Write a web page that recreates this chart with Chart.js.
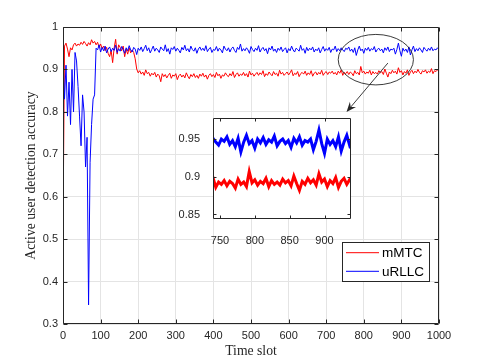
<!DOCTYPE html>
<html>
<head>
<meta charset="utf-8">
<script src="https://cdn.jsdelivr.net/npm/chart.js@4.4.1/dist/chart.umd.min.js"></script>
<style>
  html, body { margin: 0; padding: 0; background: #fff; }
  #wrap { position: relative; width: 485px; height: 363px; }
  #main { position: absolute; left: 0; top: 0; }
  #inset { position: absolute; left: 160px; top: 100px; }
</style>
</head>
<body>
<div id="wrap">
  <canvas id="main" width="485" height="363"></canvas>
  <canvas id="inset" width="200" height="145"></canvas>
</div>
<script>
// time slot of every sample (one sample read every 4 slots)
const slots = Array.from({ length: 251 }, (_, i) => i * 4);

// mMTC accuracy
const mMTC = [
  0.525, 0.955, 0.962, 0.948, 0.930, 0.951, 0.946, 0.958, 0.962, 0.955,
  0.960, 0.957, 0.964, 0.959, 0.966, 0.961, 0.955, 0.963, 0.958, 0.970,
  0.962, 0.966, 0.958, 0.964, 0.952, 0.960, 0.949, 0.955, 0.944, 0.952,
  0.938, 0.930, 0.945, 0.916, 0.950, 0.971, 0.936, 0.958, 0.952, 0.944,
  0.955, 0.930, 0.948, 0.936, 0.951, 0.939, 0.946, 0.940, 0.925, 0.901,
  0.892, 0.897, 0.889, 0.894, 0.886, 0.899, 0.890, 0.893, 0.884, 0.891,
  0.887, 0.893, 0.882, 0.889, 0.885, 0.871, 0.890, 0.883, 0.888, 0.880,
  0.886, 0.891, 0.879, 0.887, 0.884, 0.890, 0.876, 0.885, 0.889, 0.882,
  0.887, 0.880, 0.892, 0.884, 0.878, 0.888, 0.883, 0.890, 0.881, 0.886,
  0.879, 0.889, 0.884, 0.891, 0.882, 0.887, 0.877, 0.886, 0.890, 0.883,
  0.888, 0.881, 0.893, 0.885, 0.889, 0.879, 0.887, 0.884, 0.892, 0.886,
  0.883, 0.890, 0.885, 0.895, 0.881, 0.888, 0.892, 0.884, 0.889, 0.886,
  0.893, 0.885, 0.890, 0.882, 0.896, 0.887, 0.891, 0.884, 0.889, 0.893,
  0.886, 0.892, 0.888, 0.897, 0.883, 0.890, 0.886, 0.894, 0.889, 0.885,
  0.895, 0.888, 0.891, 0.884, 0.898, 0.889, 0.893, 0.886, 0.890, 0.894,
  0.887, 0.892, 0.899, 0.885, 0.891, 0.888, 0.895, 0.883, 0.890, 0.893,
  0.889, 0.896, 0.886, 0.892, 0.888, 0.897, 0.884, 0.891, 0.894, 0.887,
  0.893, 0.889, 0.898, 0.886, 0.892, 0.895, 0.888, 0.894, 0.891, 0.896,
  0.889, 0.893, 0.887, 0.896, 0.891, 0.899, 0.886, 0.893, 0.890, 0.895,
  0.888, 0.894, 0.891, 0.885, 0.897, 0.890, 0.893, 0.887, 0.907, 0.892,
  0.896, 0.889, 0.894, 0.891, 0.898, 0.887, 0.895, 0.890, 0.893, 0.889,
  0.897, 0.892, 0.895, 0.888, 0.901, 0.891, 0.882, 0.894, 0.890, 0.898,
  0.892, 0.896, 0.889, 0.904, 0.893, 0.897, 0.887, 0.895, 0.891, 0.899,
  0.886, 0.894, 0.898, 0.890, 0.896, 0.892, 0.900, 0.893, 0.889, 0.897,
  0.894, 0.899, 0.891, 0.896, 0.893, 0.902, 0.890, 0.897, 0.895, 0.899,
  0.896
];

// uRLLC accuracy
const uRLLC = [
  0.930, 0.830, 0.910, 0.790, 0.870, 0.770, 0.900, 0.800, 0.940, 0.920,
  0.860, 0.790, 0.720, 0.840, 0.800, 0.670, 0.740, 0.345, 0.680, 0.770,
  0.830, 0.840, 0.950,
  0.946, 0.958, 0.941, 0.952, 0.944, 0.955, 0.939, 0.948, 0.953, 0.942,
  0.950, 0.945, 0.957, 0.940, 0.949, 0.943, 0.954, 0.947, 0.938, 0.951,
  0.944, 0.956, 0.946, 0.941, 0.952, 0.948, 0.935, 0.950, 0.945, 0.953,
  0.942, 0.949, 0.957, 0.944, 0.951, 0.939, 0.947, 0.955, 0.943, 0.950,
  0.946, 0.940, 0.953, 0.948, 0.944, 0.958, 0.942, 0.949, 0.936, 0.951,
  0.947, 0.954, 0.943, 0.950, 0.945, 0.939, 0.952, 0.946, 0.957, 0.944,
  0.949, 0.941, 0.955, 0.947, 0.943, 0.951, 0.938, 0.948, 0.953, 0.945,
  0.950, 0.944, 0.956, 0.942, 0.948, 0.952, 0.940, 0.947, 0.945, 0.954,
  0.943, 0.950, 0.946, 0.939, 0.955, 0.948, 0.944, 0.951, 0.941, 0.949,
  0.953, 0.945, 0.940, 0.952, 0.947, 0.960, 0.943, 0.949, 0.944, 0.951,
  0.946, 0.938, 0.954, 0.947, 0.942, 0.950, 0.945, 0.956, 0.941, 0.948,
  0.952, 0.944, 0.949, 0.937, 0.951, 0.946, 0.955, 0.943, 0.948, 0.940,
  0.950, 0.945, 0.953, 0.942, 0.947, 0.951, 0.939, 0.949, 0.944, 0.955,
  0.946, 0.941, 0.950, 0.947, 0.943, 0.957, 0.945, 0.949, 0.938, 0.952,
  0.944, 0.950, 0.946, 0.953, 0.941, 0.948, 0.944, 0.951, 0.939, 0.947,
  0.954, 0.943, 0.949, 0.945, 0.952, 0.940, 0.948, 0.946, 0.955, 0.942,
  0.949, 0.944, 0.951, 0.946, 0.942, 0.950, 0.947, 0.953, 0.943, 0.948,
  0.940, 0.951, 0.933, 0.946, 0.955, 0.944, 0.948, 0.938, 0.950, 0.945,
  0.952, 0.943, 0.949, 0.946, 0.954, 0.941, 0.947, 0.950, 0.944, 0.948,
  0.939, 0.951, 0.945, 0.953, 0.942, 0.948, 0.946, 0.950, 0.936, 0.947,
  0.962, 0.944, 0.931, 0.950, 0.943, 0.948, 0.940, 0.953, 0.934, 0.946,
  0.955, 0.942, 0.949, 0.944, 0.951, 0.946, 0.940, 0.952, 0.947, 0.943,
  0.950, 0.945, 0.953, 0.944, 0.948, 0.946, 0.951, 0.947
];

const seriesNames = ['mMTC', 'uRLLC'];
const seriesColors = ['#ff0000', '#0000ff'];

const xTicksMain = [0, 100, 200, 300, 400, 500, 600, 700, 800, 900, 1000];
const yTicksMain = [0.3, 0.4, 0.5, 0.6, 0.7, 0.8, 0.9, 1];
const xTicksInset = [750, 800, 850, 900];
const yTicksInset = [0.85, 0.9, 0.95];

const AX = '#262626';
const SANS = "'Liberation Sans', Arial, sans-serif";
const SERIF = "'Liberation Serif', 'Times New Roman', serif";

function pts(vals) {
  return slots.map((s, i) => ({ x: s, y: vals[i] }));
}
function fmt(v) {
  return String(Number(v.toFixed(2)));
}

// matlab style box with inward ticks on all four sides
const matBox = {
  id: 'matBox',
  beforeDatasetsDraw(chart, args, opts) {
    if (!opts.fill) return;
    const a = chart.chartArea, ctx = chart.ctx;
    ctx.save();
    ctx.fillStyle = '#fff';
    ctx.fillRect(a.left, a.top, a.right - a.left, a.bottom - a.top);
    ctx.restore();
  },
  afterDraw(chart, args, opts) {
    const { ctx, chartArea: a, scales: { x, y } } = chart;
    const tl = opts.tick || 4;
    const L = Math.round(a.left) + 0.5, R = Math.round(a.right) - 0.5;
    const T = Math.round(a.top) + 0.5, B = Math.round(a.bottom) - 0.5;
    ctx.save();
    ctx.strokeStyle = AX;
    ctx.lineWidth = 1;
    ctx.beginPath();
    ctx.rect(L, T, R - L, B - T);
    x.ticks.forEach(t => {
      const px = Math.round(x.getPixelForValue(t.value)) + 0.5;
      ctx.moveTo(px, B); ctx.lineTo(px, B - tl);
      ctx.moveTo(px, T); ctx.lineTo(px, T + tl);
    });
    y.ticks.forEach(t => {
      const py = Math.round(y.getPixelForValue(t.value)) + 0.5;
      ctx.moveTo(L, py); ctx.lineTo(L + tl, py);
      ctx.moveTo(R, py); ctx.lineTo(R - tl, py);
    });
    ctx.stroke();
    ctx.restore();
  }
};
Chart.register(matBox);

// legend box in the lower right corner
const legendBox = {
  id: 'legendBox',
  afterDraw(chart) {
    const ctx = chart.ctx;
    ctx.save();
    ctx.fillStyle = '#fff';
    ctx.fillRect(342, 242, 87, 39);
    ctx.strokeStyle = AX;
    ctx.lineWidth = 1;
    ctx.strokeRect(342.5, 242.5, 87, 39);
    ctx.font = '13.5px ' + SANS;
    ctx.textBaseline = 'middle';
    ctx.fillStyle = '#000';
    chart.data.datasets.forEach((ds, i) => {
      const yy = 252.7 + i * 18.6;
      ctx.strokeStyle = ds.borderColor;
      ctx.beginPath();
      ctx.moveTo(346, yy); ctx.lineTo(379, yy);
      ctx.stroke();
      ctx.fillText(ds.label, 382, yy + 0.5);
    });
    ctx.restore();
  }
};

// ellipse round the zoomed part and the arrow to the inset
const zoomMark = {
  id: 'zoomMark',
  afterDraw(chart) {
    const { ctx, scales: { x, y } } = chart;
    const cx = x.getPixelForValue(832), cy = y.getPixelForValue(0.923);
    const rx = x.getPixelForValue(932) - cx, ry = cy - y.getPixelForValue(0.9825);
    ctx.save();
    ctx.strokeStyle = AX;
    ctx.fillStyle = AX;
    ctx.lineWidth = 0.9;
    ctx.beginPath();
    ctx.ellipse(cx, cy, rx, ry, 0, 0, Math.PI * 2);
    ctx.stroke();
    const x0 = x.getPixelForValue(864), y0 = y.getPixelForValue(0.915);
    const x1 = x.getPixelForValue(754), y1 = y.getPixelForValue(0.7995);
    const ang = Math.atan2(y1 - y0, x1 - x0);
    ctx.beginPath();
    ctx.moveTo(x0, y0);
    ctx.lineTo(x1 - 6 * Math.cos(ang), y1 - 6 * Math.sin(ang));
    ctx.stroke();
    ctx.beginPath();
    ctx.moveTo(x1, y1);
    ctx.lineTo(x1 - 10 * Math.cos(ang) + 4 * Math.sin(ang), y1 - 10 * Math.sin(ang) - 4 * Math.cos(ang));
    ctx.lineTo(x1 - 6.5 * Math.cos(ang), y1 - 6.5 * Math.sin(ang));
    ctx.lineTo(x1 - 10 * Math.cos(ang) - 4 * Math.sin(ang), y1 - 10 * Math.sin(ang) + 4 * Math.cos(ang));
    ctx.closePath();
    ctx.fill();
    ctx.restore();
  }
};

function datasets(width) {
  return seriesNames.map((name, i) => ({
    label: name,
    data: pts(i === 0 ? mMTC : uRLLC),
    borderColor: seriesColors[i],
    borderWidth: width,
    pointRadius: 0,
    tension: 0,
    order: 1 - i
  }));
}

const tickFont = { family: SANS, size: 11 };
const titleFont = { family: SERIF, size: 13.7 };

new Chart(document.getElementById('main'), {
  type: 'line',
  data: { datasets: datasets(1) },
  plugins: [legendBox, zoomMark],
  options: {
    responsive: false,
    animation: false,
    events: [],
    layout: { padding: { left: 0, top: 27, right: 46, bottom: 0 } },
    plugins: { legend: { display: false }, tooltip: { enabled: false }, matBox: { tick: 4 } },
    scales: {
      x: {
        type: 'linear', min: 0, max: 1000,
        afterBuildTicks: s => { s.ticks = xTicksMain.map(v => ({ value: v })); },
        afterFit: s => { s.height = 39; },
        grid: { color: '#e4e4e4', drawTicks: false },
        border: { display: false },
        ticks: { font: tickFont, color: AX, padding: 5, maxRotation: 0, callback: v => fmt(v) },
        title: { display: true, text: 'Time slot', font: titleFont, color: AX, padding: { bottom: 3 } }
      },
      y: {
        type: 'linear', min: 0.3, max: 1,
        afterBuildTicks: s => { s.ticks = yTicksMain.map(v => ({ value: v })); },
        afterFit: s => { s.width = 63; },
        grid: { color: '#e4e4e4', drawTicks: false },
        border: { display: false },
        ticks: { font: tickFont, color: AX, padding: 5, callback: v => fmt(v) },
        title: { display: true, text: 'Active user detection accuracy', font: titleFont, color: AX, padding: { top: 23 } }
      }
    }
  }
});

// zoomed inset, slots 740-938
new Chart(document.getElementById('inset'), {
  type: 'line',
  data: { datasets: datasets(3) },
  options: {
    responsive: false,
    animation: false,
    events: [],
    layout: { padding: { left: 0, top: 18, right: 9, bottom: 0 } },
    plugins: { legend: { display: false }, tooltip: { enabled: false }, matBox: { tick: 3, fill: true } },
    scales: {
      x: {
        type: 'linear', min: 740, max: 938,
        afterBuildTicks: s => { s.ticks = xTicksInset.map(v => ({ value: v })); },
        afterFit: s => { s.height = 26; },
        grid: { display: false },
        border: { display: false },
        ticks: { font: tickFont, color: AX, padding: 7, maxRotation: 0, callback: v => fmt(v) }
      },
      y: {
        type: 'linear', min: 0.844, max: 0.978,
        afterBuildTicks: s => { s.ticks = yTicksInset.map(v => ({ value: v })); },
        afterFit: s => { s.width = 53; },
        grid: { display: false },
        border: { display: false },
        ticks: { font: tickFont, color: AX, padding: 5, callback: v => fmt(v) }
      }
    }
  }
});
</script>
</body>
</html>
